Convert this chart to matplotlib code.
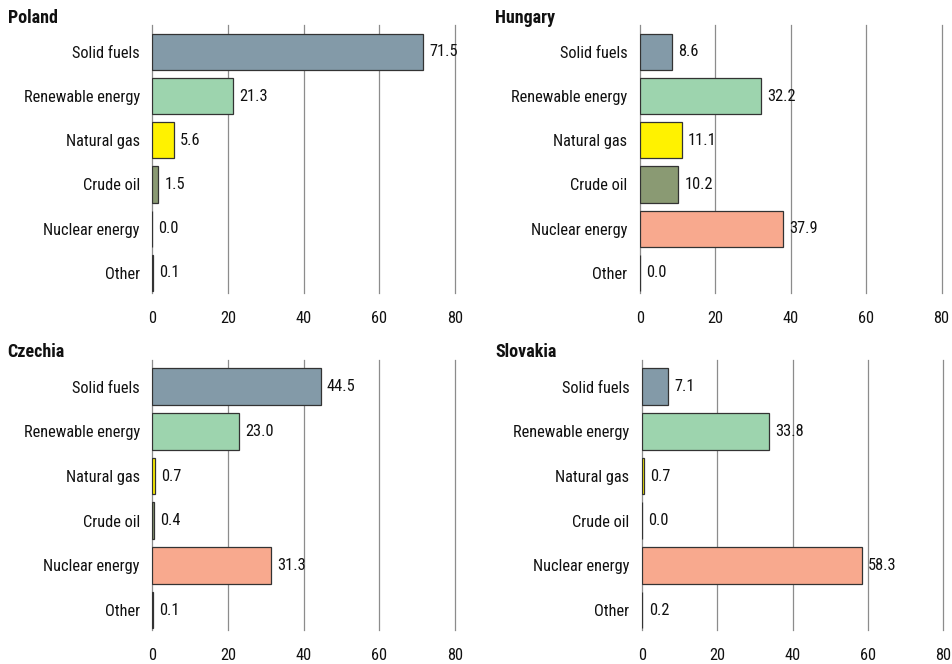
import matplotlib
matplotlib.use("Agg")
import matplotlib.pyplot as plt
from matplotlib import font_manager

# pick a narrow face if one is installed
names = {f.name for f in font_manager.fontManager.ttflist}
narrow = [n for n in ["Liberation Sans Narrow", "Roboto Condensed", "Open Sans Condensed", "DejaVu Sans Condensed"] if n in names]
plt.rcParams["font.family"] = narrow + ["DejaVu Sans"]
plt.rcParams["font.stretch"] = "condensed"

# Share of energy sources (%)
categories = ["Solid fuels", "Renewable energy", "Natural gas", "Crude oil", "Nuclear energy", "Other"]
poland = [71.5, 21.3, 5.6, 1.5, 0.0, 0.1]
hungary = [8.6, 32.2, 11.1, 10.2, 37.9, 0.0]
czechia = [44.5, 23.0, 0.7, 0.4, 31.3, 0.1]
slovakia = [7.1, 33.8, 0.7, 0.0, 58.3, 0.2]
xticks = [0, 20, 40, 60, 80]

colors = ["#839aa8", "#9dd4ae", "#fff200", "#8a9a73", "#f8a98e", "#444444"]

panels = [
    ("Poland", poland, [0.160, 0.559, 0.318, 0.403], 0.008),
    ("Hungary", hungary, [0.672, 0.559, 0.317, 0.403], 0.520),
    ("Czechia", czechia, [0.160, 0.051, 0.318, 0.407], 0.008),
    ("Slovakia", slovakia, [0.674, 0.051, 0.317, 0.407], 0.520),
]

fs = 11.8
fig = plt.figure(figsize=(9.52, 6.64), dpi=100)

for name, vals, rect, tx in panels:
    ax = fig.add_axes(rect)
    ypos = list(range(len(categories)))
    ax.barh(ypos, vals, height=0.82, color=colors, edgecolor="#333333", linewidth=0.9, zorder=3)
    for y, v in zip(ypos, vals):
        ax.annotate(f"{v:.1f}", (v, y), xytext=(4.5, 0), textcoords="offset points",
                    va="center", ha="left", fontsize=fs, color="#111111", zorder=4)
    ax.set_xlim(0, 80)
    ax.set_ylim(5.45, -0.6)
    ax.set_xticks(xticks)
    ax.set_yticks(ypos)
    ax.set_yticklabels(categories)
    ax.tick_params(axis="both", length=0, labelsize=fs, colors="#111111")
    ax.tick_params(axis="x", pad=13)
    ax.tick_params(axis="y", pad=9)
    for x in xticks:
        ax.axvline(x, color="#8c8c8c", linewidth=0.9, zorder=1, clip_on=False)
    for s in ax.spines.values():
        s.set_visible(False)
    top = rect[1] + rect[3]
    fig.text(tx, top - 0.002, name, fontsize=13, fontweight="bold", ha="left", va="bottom", color="#111111")

fig.savefig("out.png", dpi=100)
